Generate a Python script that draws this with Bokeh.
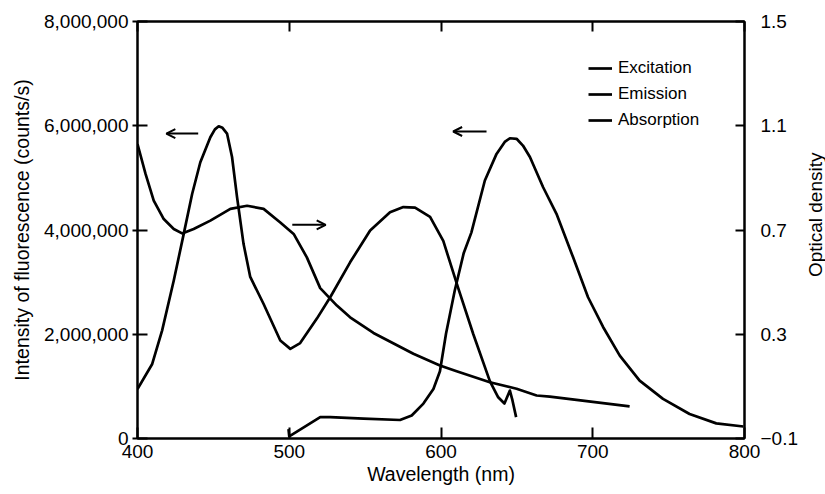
from bokeh.plotting import figure
from bokeh.layouts import row
from bokeh.models import (Range1d, LinearAxis, FixedTicker, NumeralTickFormatter,
                          Legend, LegendItem, Arrow, OpenHead, Label,
                          CustomJSTickFormatter)
from bokeh.embed import file_html
from bokeh.resources import INLINE

# ---------------- data ----------------
wavelength_ticks = [400, 500, 600, 700, 800]
intensity_ticks = [0, 2_000_000, 4_000_000, 6_000_000, 8_000_000]
od_ticks = [-0.1, 0.3, 0.7, 1.1, 1.5]
od_tick_labels = ["\u22120.1", "0.3", "0.7", "1.1", "1.5"]

excitation_nm = [400.0, 409.7, 416.2, 423.9, 430.5, 436.0, 441.4, 448.0, 451.0, 453.5,
                 456.0, 459.0, 462.3, 465.6, 469.9, 474.3, 483.1, 494.1, 500.7, 507.2,
                 518.2, 527.0, 540.1, 553.3, 566.4, 575.2, 582.9, 592.8, 601.5, 611.4,
                 621.3, 632.2, 637.7, 641.8, 645.4, 647.1, 649.5]
excitation_counts = [950_000, 1_430_000, 2_070_000, 3_030_000, 3_930_000, 4_690_000,
                     5_300_000, 5_780_000, 5_930_000, 5_990_000, 5_960_000, 5_850_000,
                     5_400_000, 4_630_000, 3_730_000, 3_100_000, 2_580_000, 1_880_000,
                     1_720_000, 1_830_000, 2_300_000, 2_710_000, 3_380_000, 3_990_000,
                     4_340_000, 4_440_000, 4_430_000, 4_250_000, 3_790_000, 2_880_000,
                     2_000_000, 1_100_000, 790_000, 670_000, 920_000, 730_000, 410_000]

emission_nm = [499.5, 500.0, 520.4, 527.0, 548.9, 573.0, 580.7, 588.4, 595.0, 599.3,
               603.3, 609.0, 615.0, 620.0, 628.9, 636.6, 642.0, 645.4, 649.8, 654.0,
               658.6, 667.3, 676.1, 687.0, 696.9, 706.8, 717.8, 730.9, 746.3, 763.8,
               781.4, 799.3]
emission_counts = [180_000, 40_000, 410_000, 410_000, 380_000, 355_000, 440_000, 670_000,
                   950_000, 1_290_000, 2_010_000, 2_830_000, 3_560_000, 3_950_000,
                   4_950_000, 5_460_000, 5_690_000, 5_760_000, 5_750_000, 5_620_000,
                   5_400_000, 4_820_000, 4_310_000, 3_480_000, 2_710_000, 2_140_000,
                   1_590_000, 1_110_000, 760_000, 470_000, 290_000, 230_000]

absorption_nm = [400.0, 405.3, 410.7, 417.3, 423.9, 429.4, 437.0, 448.0, 461.2, 472.2,
                 483.1, 494.1, 502.9, 511.6, 520.4, 531.4, 540.1, 555.5, 581.8, 599.3,
                 610.3, 632.2, 649.8, 663.0, 671.7, 724.3]
absorption_od = [1.030, 0.915, 0.813, 0.742, 0.704, 0.687, 0.704, 0.736, 0.781, 0.793,
                 0.781, 0.729, 0.685, 0.595, 0.477, 0.410, 0.365, 0.305, 0.225, 0.180,
                 0.158, 0.116, 0.091, 0.065, 0.061, 0.023]

# direction arrows (which axis a curve belongs to): tail x, head x, y (counts/s)
arrow_tail_nm = [440, 502, 630]
arrow_head_nm = [419, 524, 608]
arrow_level = [5_850_000, 4_100_000, 5_890_000]

series_names = ["Excitation", "Emission", "Absorption"]
x_title = "Wavelength (nm)"
y_left_title = "Intensity of fluorescence (counts/s)"
y_right_title = "Optical density"

# ---------------- figure ----------------
FONT = "Liberation Sans"
INK = "#000000"
W_MAIN, W_SIDE, H = 805, 20, 494

p = figure(width=W_MAIN, height=H,
           x_range=Range1d(400, 800), y_range=Range1d(0, 8_000_000),
           output_backend="svg", toolbar_location=None,
           min_border_left=137, min_border_right=W_MAIN - 744,
           min_border_top=21, min_border_bottom=H - 438)
p.extra_y_ranges = {"od": Range1d(-0.1, 1.5)}

p.xgrid.visible = False
p.ygrid.visible = False
p.outline_line_color = INK
p.outline_line_width = 2
p.background_fill_color = "white"
p.border_fill_color = "white"


def style_axis(ax, tick_in, tick_out):
    ax.axis_line_color = INK
    ax.axis_line_width = 2
    ax.major_tick_line_color = INK
    ax.major_tick_line_width = 2
    ax.major_tick_in = tick_in
    ax.major_tick_out = tick_out
    ax.minor_tick_line_color = None
    ax.major_label_text_font = FONT
    ax.major_label_text_font_size = "19px"
    ax.major_label_text_color = INK
    ax.axis_label_text_font = FONT
    ax.axis_label_text_font_size = "19.5px"
    ax.axis_label_text_font_style = "normal"
    ax.axis_label_text_color = INK


# bottom axis
xa = p.xaxis[0]
xa.ticker = FixedTicker(ticks=wavelength_ticks)
xa.axis_label = x_title
style_axis(xa, 11, 0)
xa.major_label_standoff = 6
xa.axis_label_standoff = 2

# left axis
ya = p.yaxis[0]
ya.ticker = FixedTicker(ticks=intensity_ticks)
ya.formatter = NumeralTickFormatter(format="0,0")
ya.axis_label = y_left_title
style_axis(ya, 10, 5)
ya.major_label_standoff = 4
ya.axis_label_standoff = 8

# right axis
ra = LinearAxis(y_range_name="od", ticker=FixedTicker(ticks=od_ticks),
                major_label_overrides=dict(zip(od_ticks, od_tick_labels)))
style_axis(ra, 9, 0)
ra.major_label_standoff = 16
p.add_layout(ra, "right")

# top axis (inward ticks only)
ta = LinearAxis(ticker=FixedTicker(ticks=wavelength_ticks),
                formatter=CustomJSTickFormatter(code="return ''"))
style_axis(ta, 10, 0)
ta.major_label_text_font_size = "0px"
ta.major_label_standoff = 0
p.add_layout(ta, "above")

# curves
LW = 2.7
r_exc = p.line(excitation_nm, excitation_counts, line_color=INK, line_width=LW,
               line_join="round")
r_emi = p.line(emission_nm, emission_counts, line_color=INK, line_width=LW,
               line_join="round")
r_abs = p.line(absorption_nm, absorption_od, y_range_name="od", line_color=INK,
               line_width=LW, line_join="round")

# arrows
for xs, xe, yv in zip(arrow_tail_nm, arrow_head_nm, arrow_level):
    p.add_layout(Arrow(end=OpenHead(size=9, line_width=2, line_color=INK),
                       x_start=xs, y_start=yv, x_end=xe, y_end=yv,
                       line_width=2, line_color=INK))

# legend
legend = Legend(items=[LegendItem(label=n, renderers=[r])
                       for n, r in zip(series_names, [r_exc, r_emi, r_abs])],
                location=(451, 308), orientation="vertical",
                padding=0, margin=0, spacing=6,
                glyph_width=24, glyph_height=20, label_height=20,
                label_standoff=6,
                label_text_font=FONT, label_text_font_size="17px",
                label_text_color=INK,
                border_line_alpha=0, background_fill_alpha=0)
p.add_layout(legend)

# narrow strip on the right carrying the right-hand axis title (bottom-to-top)
side = figure(width=W_SIDE, height=H, x_range=Range1d(0, W_SIDE), y_range=Range1d(0, H),
              output_backend="svg", toolbar_location=None,
              x_axis_location=None, y_axis_location=None, min_border=0)
side.xgrid.visible = False
side.ygrid.visible = False
side.outline_line_color = None
side.background_fill_color = "white"
side.border_fill_color = "white"
side.add_layout(Label(x=W_SIDE / 2, y=H - 229, text=y_right_title,
                      angle=90, angle_units="deg", text_align="center",
                      text_baseline="middle", text_font=FONT,
                      text_font_size="19px", text_color=INK))

layout = row(p, side, spacing=0)
open("out.html", "w").write(file_html(layout, INLINE))
